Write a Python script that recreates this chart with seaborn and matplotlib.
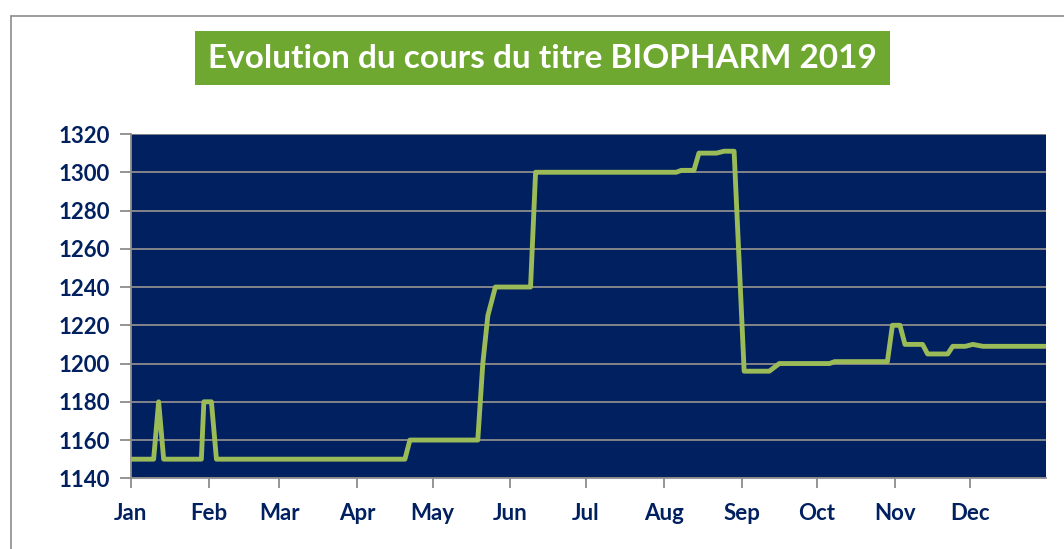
import pandas as pd
import matplotlib.pyplot as plt
import matplotlib.dates as mdates
from matplotlib.patches import Rectangle
from matplotlib.lines import Line2D
import seaborn as sns

# === Data (breakpoints of the price curve) ===
dates = ["2019-01-01", "2019-01-10", "2019-01-12", "2019-01-14", "2019-01-29",
         "2019-01-30", "2019-02-02", "2019-02-04", "2019-04-20", "2019-04-22",
         "2019-05-19", "2019-05-21", "2019-05-23", "2019-05-26", "2019-06-09",
         "2019-06-11", "2019-08-06", "2019-08-08", "2019-08-13", "2019-08-15",
         "2019-08-22", "2019-08-25", "2019-08-29", "2019-09-02", "2019-09-12",
         "2019-09-16", "2019-10-06", "2019-10-08", "2019-10-29", "2019-10-31",
         "2019-11-03", "2019-11-05", "2019-11-12", "2019-11-14", "2019-11-22",
         "2019-11-24", "2019-11-29", "2019-12-02", "2019-12-06", "2019-12-31"]
prices = [1150, 1150, 1180, 1150, 1150,
          1180, 1180, 1150, 1150, 1160,
          1160, 1200, 1225, 1240, 1240,
          1300, 1300, 1301, 1301, 1310,
          1310, 1311, 1311, 1196, 1196,
          1200, 1200, 1201, 1201, 1220,
          1220, 1210, 1210, 1205, 1205,
          1209, 1209, 1210, 1209, 1209]
y_ticks = list(range(1140, 1321, 20))
title = "Evolution du cours du titre BIOPHARM 2019"

df = pd.DataFrame({"date": pd.to_datetime(dates), "price": prices})

navy = "#002060"
sns.set_style("white")
plt.rcParams["font.family"] = ["Lato", "DejaVu Sans"]
plt.rcParams["font.weight"] = "bold"

W, H = 1064, 549
fig = plt.figure(figsize=(W / 100, H / 100), dpi=100)
ax = fig.add_axes([131 / W, 1 - 478.3 / H, (1045.7 - 131) / W, (478.3 - 134) / H])
ax.set_facecolor(navy)

sns.lineplot(data=df, x="date", y="price", ax=ax, color="#9BBB59", linewidth=3.5, zorder=3)

ax.set_ylim(1140, 1320)
ax.set_yticks(y_ticks)
ax.set_xlim(pd.Timestamp("2019-01-01"), pd.Timestamp("2019-12-31"))
ax.xaxis.set_major_locator(mdates.MonthLocator())
ax.xaxis.set_major_formatter(mdates.DateFormatter("%b"))
ax.set_xlabel("")
ax.set_ylabel("")

ax.grid(axis="y", color="#8c8c8c", linewidth=1.3, zorder=1)
ax.grid(axis="x", visible=False)
ax.set_axisbelow(True)
for s in ["top", "right"]:
    ax.spines[s].set_visible(False)
for s in ["left", "bottom"]:
    ax.spines[s].set_color("#8c8c8c")
    ax.spines[s].set_linewidth(1.3)

ax.tick_params(axis="y", left=True, length=8, width=1.3, color="#8c8c8c", pad=7,
               labelsize=16, labelcolor=navy)
ax.tick_params(axis="x", bottom=True, length=7, width=1.3, color="#8c8c8c", pad=11,
               labelsize=16, labelcolor=navy)

# === Title box ===
fig.patches.append(Rectangle((195 / W, 1 - 84.7 / H), 695 / W, 53.7 / H,
                             transform=fig.transFigure, facecolor="#6FA830",
                             edgecolor="none", zorder=0))
fig.text(542.5 / W, 1 - 58 / H, title, color="white", fontsize=24,
         fontweight="bold", ha="center", va="center")

# === Outer frame ===
fig.lines.append(Line2D([10.7 / W, 10.7 / W], [0, 1 - 15.7 / H],
                        transform=fig.transFigure, color="#8c8c8c", linewidth=1.2))
fig.lines.append(Line2D([10.7 / W, 1], [1 - 15.7 / H, 1 - 15.7 / H],
                        transform=fig.transFigure, color="#8c8c8c", linewidth=1.2))

fig.savefig("out.png", dpi=100, facecolor="white")
